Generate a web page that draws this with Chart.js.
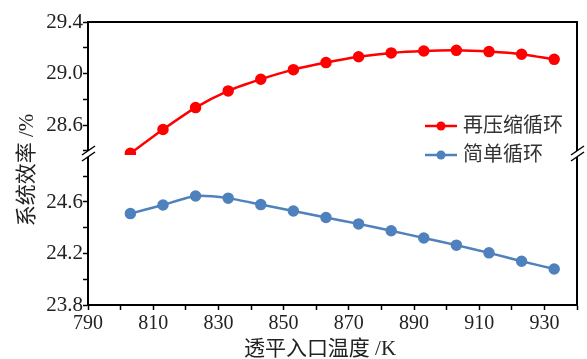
<!DOCTYPE html>
<html>
<head>
<meta charset="utf-8">
<script src="https://cdn.jsdelivr.net/npm/chart.js@4/dist/chart.umd.min.js"></script>
<style>
  html, body { margin: 0; padding: 0; background: #fff; }
  #wrap { width: 587px; height: 359px; }
</style>
</head>
<body>
<div id="wrap"><canvas id="chart" width="587" height="359"></canvas></div>
<script>
// Data
const temps = [803, 813, 823, 833, 843, 853, 863, 873, 883, 893, 903, 913, 923, 933];
const recompValues = [28.38, 28.565, 28.735, 28.865, 28.955, 29.03, 29.085, 29.13, 29.16, 29.175, 29.18, 29.17, 29.15, 29.11];
const simpleValues = [24.51, 24.577, 24.647, 24.63, 24.58, 24.53, 24.48, 24.43, 24.377, 24.32, 24.265, 24.205, 24.14, 24.08];

const seriesNames = ['再压缩循环', '简单循环'];
const xTickLabels = [790, 810, 830, 850, 870, 890, 910, 930];
const upperTickLabels = [28.6, 29.0, 29.4];
const lowerTickLabels = [23.8, 24.2, 24.6];

const xTitle = '透平入口温度 /K';
const yTitle = '系统效率 /%';

const RED = '#ff0000';
const BLUE = '#4f81bd';
const TEXT = '#222';
const SERIF = "'Liberation Serif', 'Times New Roman', serif";
const CJK_FONT = "21px 'Liberation Serif', 'Noto Sans CJK SC', serif";
const LEGEND_FONT = "20px 'Liberation Serif', 'Noto Sans CJK SC', serif";

function inList(list, v) {
    return list.some(t => Math.abs(t - v) < 1e-6);
}

function yAxis(stackWeight, min, max, labels) {
    return {
        type: 'linear',
        position: 'left',
        stack: 'y',
        stackWeight: stackWeight,
        min: min,
        max: max,
        ticks: {
            stepSize: 0.2,
            includeBounds: false,
            autoSkip: false,
            padding: 0,
            color: TEXT,
            font: { family: SERIF, size: 21 },
            callback: function (value) {
                return inList(labels, value) ? value.toFixed(1) : '';
            }
        },
        grid: { drawOnChartArea: false, drawTicks: true, tickLength: 5, tickColor: '#000', tickWidth: 1.5 },
        border: { color: '#000', width: 2 },
        afterFit: function (scale) { scale.width = 88; }
    };
}

// Frame, axis break marks, axis titles and legend
const decorations = {
    id: 'decorations',
    afterDraw(chart) {
        const ctx = chart.ctx;
        const area = chart.chartArea;
        const breakY = chart.scales.yTop.bottom;

        ctx.save();
        ctx.strokeStyle = '#000';
        ctx.lineWidth = 2;
        ctx.beginPath();
        ctx.moveTo(area.left - 1, area.top);
        ctx.lineTo(area.right, area.top);
        ctx.lineTo(area.right, area.bottom + 1);
        ctx.stroke();

        // break marks on both vertical edges
        [area.left, area.right].forEach(x => {
            ctx.fillStyle = '#fff';
            ctx.fillRect(x - 2, breakY - 4, 4, 6);
            ctx.strokeStyle = '#000';
            ctx.lineWidth = 1.5;
            [-3, 3].forEach(d => {
                ctx.beginPath();
                ctx.moveTo(x - 6, breakY + 3 + d);
                ctx.lineTo(x + 7, breakY - 6 + d);
                ctx.stroke();
            });
        });

        // axis titles
        ctx.fillStyle = TEXT;
        ctx.font = CJK_FONT;
        ctx.textAlign = 'center';
        ctx.textBaseline = 'middle';
        ctx.fillText(xTitle, 320, 349);
        ctx.translate(27, 170);
        ctx.rotate(-Math.PI / 2);
        ctx.fillText(yTitle, 0, 0);
        ctx.restore();

        // legend inside the plot
        ctx.save();
        ctx.font = LEGEND_FONT;
        ctx.textAlign = 'left';
        ctx.textBaseline = 'middle';
        chart.data.datasets.forEach((ds, i) => {
            const y = 126 + i * 29;
            ctx.strokeStyle = ds.borderColor;
            ctx.lineWidth = 2.5;
            ctx.beginPath();
            ctx.moveTo(425, y);
            ctx.lineTo(457, y);
            ctx.stroke();
            ctx.fillStyle = ds.backgroundColor;
            ctx.beginPath();
            ctx.arc(441, y, 4.5, 0, Math.PI * 2);
            ctx.fill();
            ctx.fillStyle = '#333';
            ctx.fillText(ds.label, 463, y + 1);
        });
        ctx.restore();
    }
};

new Chart(document.getElementById('chart'), {
    type: 'line',
    data: {
        datasets: [
            {
                label: seriesNames[0],
                data: temps.map((t, i) => ({ x: t, y: recompValues[i] })),
                yAxisID: 'yTop',
                borderColor: RED,
                backgroundColor: RED,
                borderWidth: 2.5,
                pointRadius: 4.5,
                tension: 0.2
            },
            {
                label: seriesNames[1],
                data: temps.map((t, i) => ({ x: t, y: simpleValues[i] })),
                yAxisID: 'yBottom',
                borderColor: BLUE,
                backgroundColor: BLUE,
                borderWidth: 2.5,
                pointRadius: 4.5,
                tension: 0.2
            }
        ]
    },
    options: {
        responsive: false,
        animation: false,
        layout: { padding: { top: 22, right: 10, left: 0, bottom: 0 } },
        plugins: {
            legend: { display: false },
            tooltip: { enabled: false }
        },
        scales: {
            x: {
                type: 'linear',
                min: 790,
                max: 940,
                ticks: {
                    stepSize: 10,
                    includeBounds: false,
                    autoSkip: false,
                    maxRotation: 0,
                    padding: 2,
                    color: TEXT,
                    font: { family: SERIF, size: 20 },
                    callback: function (value) {
                        return inList(xTickLabels, value) ? String(value) : '';
                    }
                },
                grid: { drawOnChartArea: false, drawTicks: true, tickLength: 5, tickColor: '#000', tickWidth: 1.5 },
                border: { color: '#000', width: 2 },
                afterFit: function (scale) { scale.height = 54; }
            },
            // listed bottom first: the stacked left axes are placed bottom-up
            yBottom: yAxis(150, 23.8, 24.965, lowerTickLabels),
            yTop: yAxis(133, 28.367, 29.4001, upperTickLabels)
        }
    },
    plugins: [decorations]
});
</script>
</body>
</html>
